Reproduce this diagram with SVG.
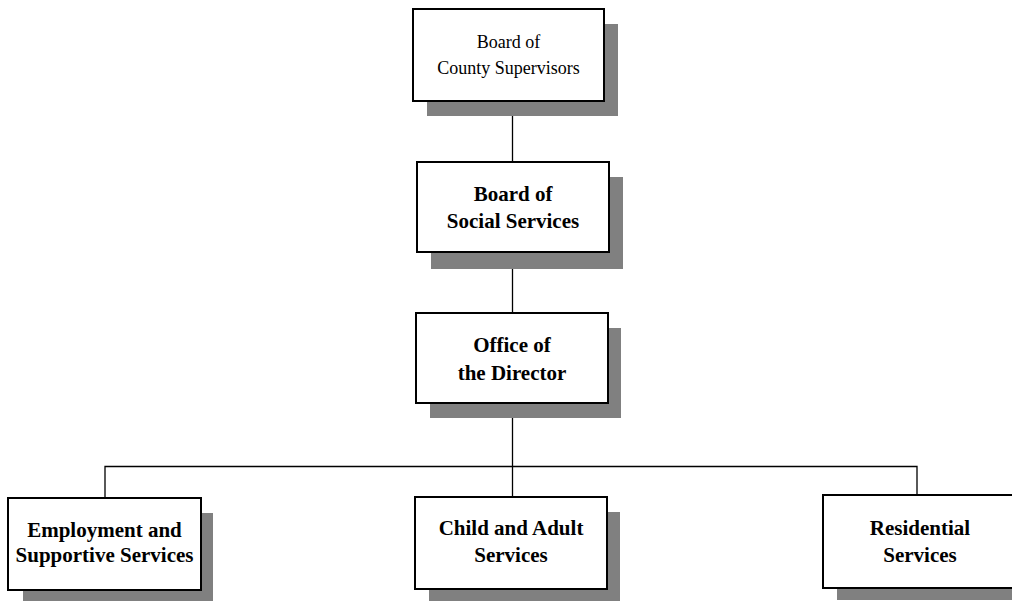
<svg xmlns="http://www.w3.org/2000/svg" width="1012" height="601" viewBox="0 0 1012 601">
<style>
.sh{fill:#808080}
.bx{fill:#fff;stroke:#000;stroke-width:2}
.t{font-family:"Liberation Serif","Times New Roman",serif;font-size:21px;font-weight:bold;text-anchor:middle;fill:#000}
.r{font-weight:normal;font-size:18px}
.c{stroke:#000;stroke-width:1.3;fill:none}
</style>
<rect width="1012" height="601" fill="#fff"/>
<g id="connectors">
<line class="c" x1="512.5" y1="101" x2="512.5" y2="162"/>
<line class="c" x1="512.5" y1="252" x2="512.5" y2="313"/>
<line class="c" x1="512.5" y1="403" x2="512.5" y2="497"/>
<polyline class="c" points="105,498 105,466.5 917,466.5 917,495"/>
</g>
<g id="board-supervisors">
<rect class="sh" x="427" y="24" width="191" height="92"/>
<rect class="bx" x="413" y="9" width="191" height="92"/>
<text class="t r" x="508.5" y="48">Board of</text>
<text class="t r" x="508.5" y="74">County Supervisors</text>
</g>
<g id="board-social">
<rect class="sh" x="431" y="177" width="192" height="92"/>
<rect class="bx" x="417" y="162" width="192" height="90"/>
<text class="t" x="513" y="201">Board of</text>
<text class="t" x="513" y="228">Social Services</text>
</g>
<g id="office-director">
<rect class="sh" x="430" y="328" width="191" height="90"/>
<rect class="bx" x="416" y="313" width="192" height="90"/>
<text class="t" x="512" y="352">Office of</text>
<text class="t" x="512" y="380">the Director</text>
</g>
<g id="employment">
<rect class="sh" x="23" y="513" width="190" height="92"/>
<rect class="bx" x="8" y="498" width="193" height="92"/>
<text class="t" x="104.5" y="537">Employment and</text>
<text class="t" x="104.5" y="562">Supportive Services</text>
</g>
<g id="child-adult">
<rect class="sh" x="429" y="512" width="191" height="92"/>
<rect class="bx" x="415" y="497" width="192" height="92"/>
<text class="t" x="511" y="535">Child and Adult</text>
<text class="t" x="511" y="562">Services</text>
</g>
<g id="residential">
<rect class="sh" x="837" y="510" width="191" height="90"/>
<rect class="bx" x="823" y="495" width="194" height="93"/>
<text class="t" x="920" y="535">Residential</text>
<text class="t" x="920" y="562">Services</text>
</g>
</svg>
